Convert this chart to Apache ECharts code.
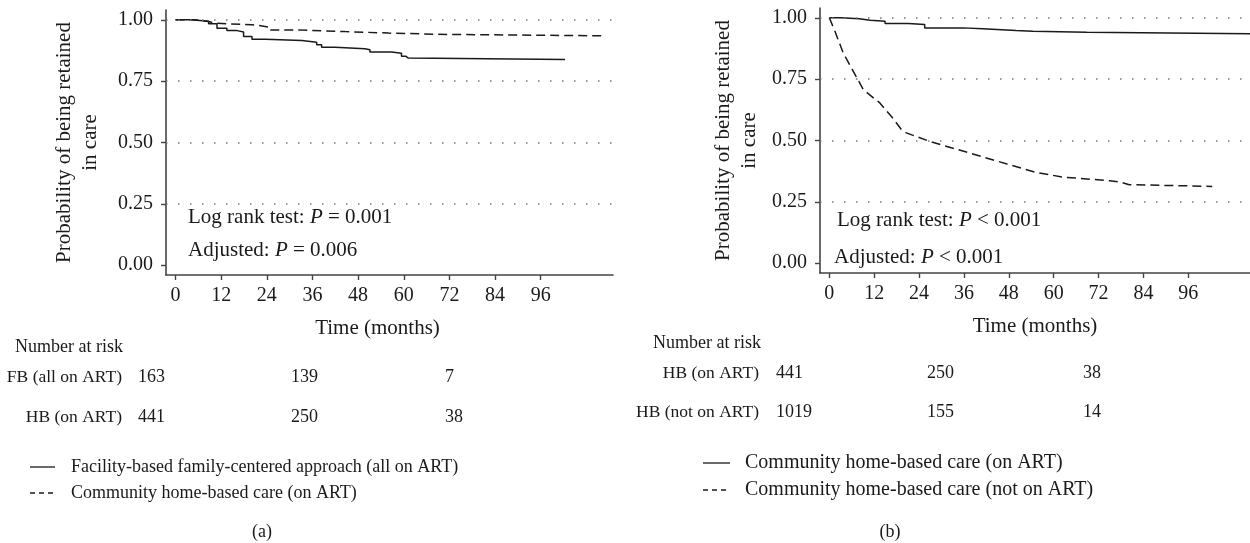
<!DOCTYPE html>
<html><head><meta charset="utf-8">
<script src="https://cdn.jsdelivr.net/npm/echarts@6/dist/echarts.min.js"></script>
<style>html,body{margin:0;padding:0;background:#fff}#c{width:1250px;height:543px}</style>
</head><body><div id="c"></div>
<script>
// ---- data ----
const timeTicks = [0, 12, 24, 36, 48, 60, 72, 84, 96];
const probTicks = [0, 0.25, 0.5, 0.75, 1];
const gridProbs = [0.25, 0.5, 0.75, 1];

// Panel (a): [months, probability]
const fbAllOnArt = [[0,1],[4,0.994],[8.7,0.984],[10.9,0.966],[13.5,0.956],[16.2,0.95],[17.9,0.932],[20.1,0.921],[23.6,0.916],[33.2,0.909],[37.1,0.898],[38.4,0.888],[41.9,0.882],[49.8,0.878],[51.1,0.869],[56.8,0.864],[59.4,0.852],[60.5,0.844],[61.2,0.838],[102.4,0.838]];
const hbOnArtA = [[0,1],[5,0.993],[8.7,0.986],[10.5,0.98],[20.1,0.977],[22,0.97],[24.5,0.959],[32.3,0.952],[44.6,0.946],[56,0.941],[68.6,0.935],[112.2,0.935]];
// Panel (b)
const hbOnArtB = [[0,1],[3,0.996],[8,0.99],[10.9,0.986],[14.9,0.977],[21.1,0.973],[25.5,0.959],[35.7,0.955],[41,0.948],[49.9,0.945],[54.4,0.941],[68.8,0.935],[112.5,0.935]];
const hbNotOnArt = [[0,1],[1.5,0.945],[3.7,0.857],[6.4,0.782],[9.1,0.707],[13.5,0.653],[16.6,0.598],[19.3,0.544],[20.6,0.531],[26.9,0.496],[37.5,0.449],[47.3,0.405],[55.3,0.370],[62.4,0.351],[74.9,0.336],[78,0.330],[80.2,0.32],[102.4,0.313]];

// Number at risk
const riskLabelsA = ['FB (all on ART)', 'HB (on ART)'];
const riskValuesA = [['163','139','7'], ['441','250','38']];
const riskLabelsB = ['HB (on ART)', 'HB (not on ART)'];
const riskValuesB = [['441','250','38'], ['1019','155','14']];

const legendA = ['Facility-based family-centered approach (all on ART)', 'Community home-based care (on ART)'];
const legendB = ['Community home-based care (on ART)', 'Community home-based care (not on ART)'];
const statsA = [['Log rank test: ', 'P', ' = 0.001'], ['Adjusted: ', 'P', ' = 0.006']];
const statsB = [['Log rank test: ', 'P', ' < 0.001'], ['Adjusted: ', 'P', ' < 0.001']];

// ---- chart ----
const FONT = '"Liberation Serif", "Times New Roman", serif';
const INK = '#1a1a1a';
const chart = echarts.init(document.getElementById('c'), null, {renderer: 'canvas'});

function xAxisDef(gridIndex, min, max, namePad) {
  return {
    type: 'value', gridIndex, min, max,
    name: 'Time (months)', nameLocation: 'middle', nameGap: 43,
    nameTextStyle: {fontFamily: FONT, fontSize: 21, color: INK, padding: namePad},
    axisLine: {show: true, onZero: false, lineStyle: {color: '#444', width: 1.6}},
    axisTick: {show: true, length: 5, lineStyle: {color: '#444', width: 1.4}, customValues: timeTicks},
    axisLabel: {fontFamily: FONT, fontSize: 20, color: INK, margin: 11, customValues: timeTicks},
    splitLine: {show: false}
  };
}
function yAxisDef(gridIndex, gap) {
  return {
    type: 'value', gridIndex, min: -0.04, max: 1.04,
    name: 'Probability of being retained\nin care', nameLocation: 'middle', nameGap: gap, nameRotate: 90,
    nameTextStyle: {fontFamily: FONT, fontSize: 21, lineHeight: 26, color: INK, align: 'center'},
    axisLine: {show: true, onZero: false, lineStyle: {color: '#444', width: 1.6}},
    axisTick: {show: true, length: 5, lineStyle: {color: '#444', width: 1.4}, customValues: probTicks},
    axisLabel: {fontFamily: FONT, fontSize: 20, color: INK, margin: 13, customValues: probTicks,
      formatter: v => Number(v).toFixed(2)},
    splitLine: {show: false}
  };
}
function gridMark() {
  return {
    silent: true, symbol: 'none', label: {show: false},
    lineStyle: {color: '#777', width: 1.5, type: [1.5, 10.5]},
    data: gridProbs.map(p => ({yAxis: p}))
  };
}
const solid = {color: INK, width: 1.5, type: 'solid'};
const dashed = {color: INK, width: 1.5, type: [9, 5]};

const graphics = [];
function txt(x, y, text, size, align) {
  graphics.push({type: 'text', x, y, style: {text, fontFamily: FONT, fontSize: size, fill: INK, align: align || 'left', verticalAlign: 'middle'}});
}
function richTxt(x, y, parts, size) {
  graphics.push({type: 'text', x, y, style: {
    text: parts[0] + '{i|' + parts[1] + '}' + parts[2],
    fontFamily: FONT, fontSize: size, fill: INK, verticalAlign: 'middle',
    rich: {i: {fontFamily: FONT, fontSize: size, fontStyle: 'italic', fill: INK}}
  }});
}
function legLine(x1, x2, y, dash) {
  graphics.push({type: 'line', shape: {x1, y1: y, x2, y2: y}, style: {stroke: INK, lineWidth: 1.3, lineDash: dash || null}});
}

// Stats text
richTxt(188, 217, statsA[0], 21);
richTxt(188, 250, statsA[1], 21);
richTxt(837, 220, statsB[0], 21);
richTxt(834, 257, statsB[1], 21);

// Number at risk tables
txt(15, 347, 'Number at risk', 18);
const colsA = [138, 291, 445], rowsA = [377, 417];
riskLabelsA.forEach((l, i) => {
  txt(122, rowsA[i], l, 17.5, 'right');
  riskValuesA[i].forEach((v, j) => txt(colsA[j], rowsA[i], v, 18));
});
txt(653, 343, 'Number at risk', 18);
const colsB = [776, 927, 1083], rowsB = [373, 412];
riskLabelsB.forEach((l, i) => {
  txt(759, rowsB[i], l, 17.5, 'right');
  riskValuesB[i].forEach((v, j) => txt(colsB[j], rowsB[i], v, 18));
});

// Legends
legLine(30, 55, 467, null); txt(71, 467, legendA[0], 18);
legLine(30, 55, 493, [5, 4]); txt(71, 493, legendA[1], 18);
legLine(703, 730, 463, null); txt(745, 463, legendB[0], 20);
legLine(703, 730, 490, [5, 4]); txt(745, 490, legendB[1], 20);

// Panel letters
txt(262, 532, '(a)', 18, 'center');
txt(890, 532, '(b)', 18, 'center');

chart.setOption({
  animation: false,
  backgroundColor: '#fff',
  grid: [
    {left: 166, top: 10, width: 447, height: 265},
    {left: 820, top: 8, width: 430, height: 265}
  ],
  xAxis: [xAxisDef(0, -2.5, 115, [0, 24, 0, 0]), xAxisDef(1, -2.5, 112.5, [0, 0, 0, 0])],
  yAxis: [yAxisDef(0, 63), yAxisDef(1, 58)],
  series: [
    {name: legendA[0], type: 'line', xAxisIndex: 0, yAxisIndex: 0, data: fbAllOnArt, step: 'end', symbol: 'none', lineStyle: solid, markLine: gridMark(), z: 3},
    {name: legendA[1], type: 'line', xAxisIndex: 0, yAxisIndex: 0, data: hbOnArtA, step: 'end', symbol: 'none', lineStyle: dashed, z: 3},
    {name: legendB[0], type: 'line', xAxisIndex: 1, yAxisIndex: 1, data: hbOnArtB, step: 'end', symbol: 'none', lineStyle: solid, markLine: gridMark(), z: 3},
    {name: legendB[1], type: 'line', xAxisIndex: 1, yAxisIndex: 1, data: hbNotOnArt, symbol: 'none', lineStyle: dashed, z: 3}
  ],
  graphic: graphics
});
</script></body></html>
